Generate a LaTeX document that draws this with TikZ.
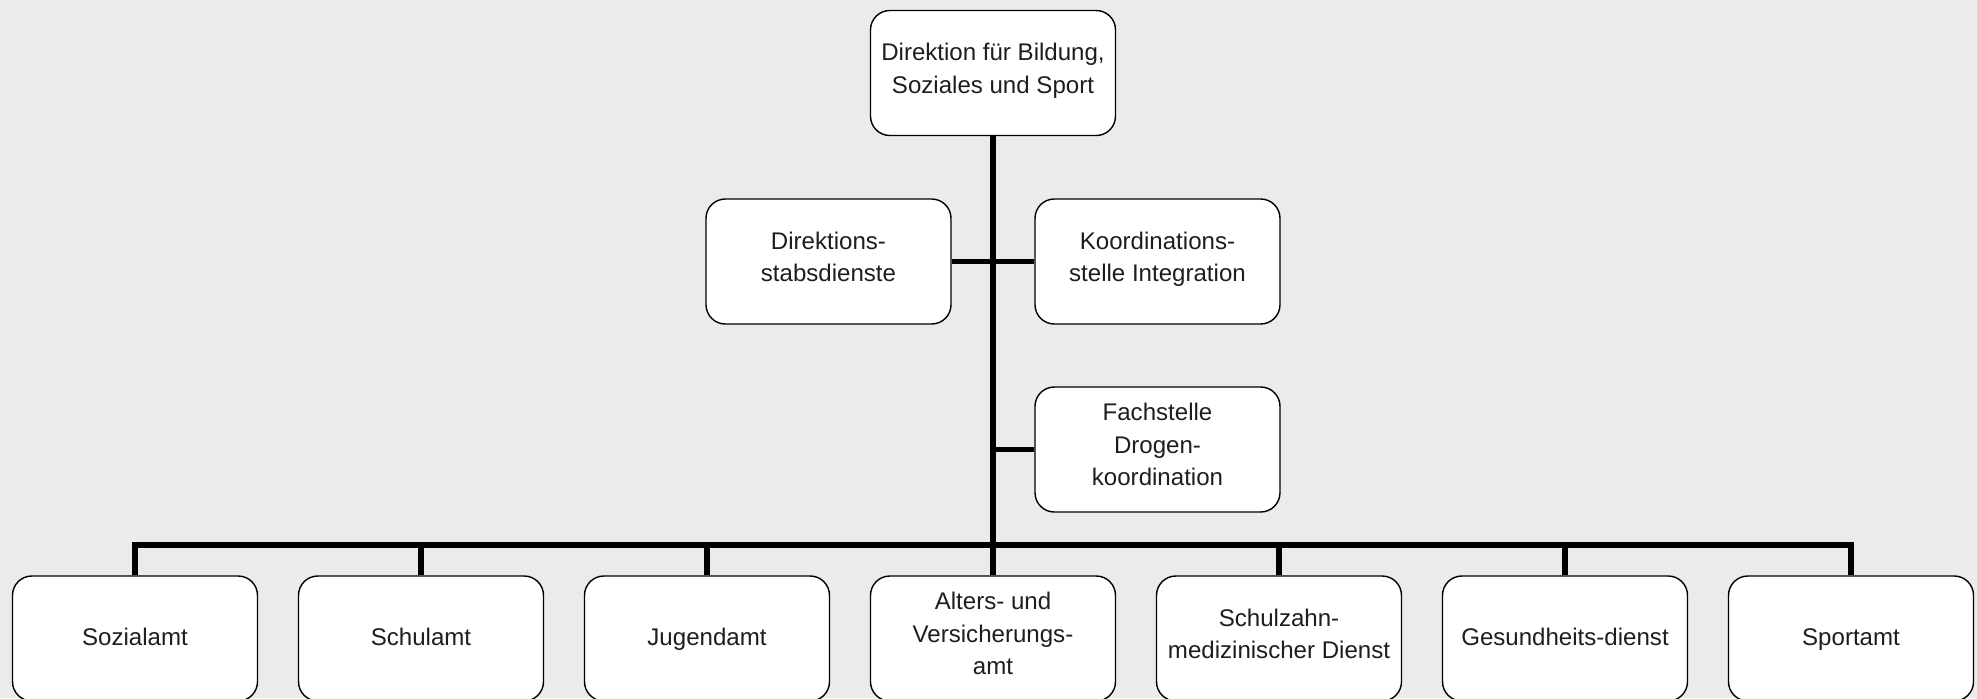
\documentclass[tikz,border=0pt]{standalone}
\usepackage{fontspec}
\setsansfont{Liberation Sans}
\usetikzlibrary{calc}
\definecolor{ink}{HTML}{1E1E1E}
\definecolor{canvas}{HTML}{EAEBEA}
\tikzset{
  unit/.style={draw=black,fill=white,line width=0.8pt,rounded corners=11pt,
    minimum width=4.9cm,minimum height=2.5cm,align=center,text=ink,
    font=\sffamily\fontsize{13.7}{18.5}\selectfont,
    execute at begin node=\strut,execute at end node=\strut},
  link/.style={draw=black,line width=3.2pt},
}

\begin{document}
\begin{tikzpicture}[font=\sffamily]
  \fill[canvas] (0,0) rectangle (39.54,-13.96);
  \useasboundingbox (0,0) rectangle (39.54,-13.96);

  % Direction and staff units along the trunk
  \node[unit] (dir) at (19.86,-1.46) {Direktion für Bildung,\\Soziales und Sport};
  \node[unit] (stab) at (16.57,-5.23) {Direktions-\\stabsdienste};
  \node[unit] (koord) at (23.15,-5.23) {Koordinations-\\stelle Integration};
  \node[unit] (drogen) at (23.15,-8.99) {Fachstelle\\Drogen-\\koordination};

  % Offices in the lower row
  \foreach \i/\x/\name in {1/2.70/Sozialamt,2/8.42/Schulamt,3/14.14/Jugendamt,
      4/19.86/{Alters- und\\Versicherungs-\\amt},5/25.58/{Schulzahn-\\medizinischer Dienst},
      6/31.30/Gesundheits-dienst,7/37.02/Sportamt} {
    \node[unit] (amt\i) at (\x,-12.77) {\name};
  }

  \coordinate (bus) at (19.86,-10.9);
  \draw[link] (dir.south) -- (bus);
  \draw[link] (stab.east) -- (koord.west);
  \draw[link] (drogen.west) -- (drogen.west -| dir.south);
  \draw[link] (amt1.north) |- (bus) -| (amt7.north);
  \foreach \i in {2,...,6} {
    \draw[link] (amt\i.north) -- (amt\i.north |- bus);
  }
\end{tikzpicture}
\end{document}
